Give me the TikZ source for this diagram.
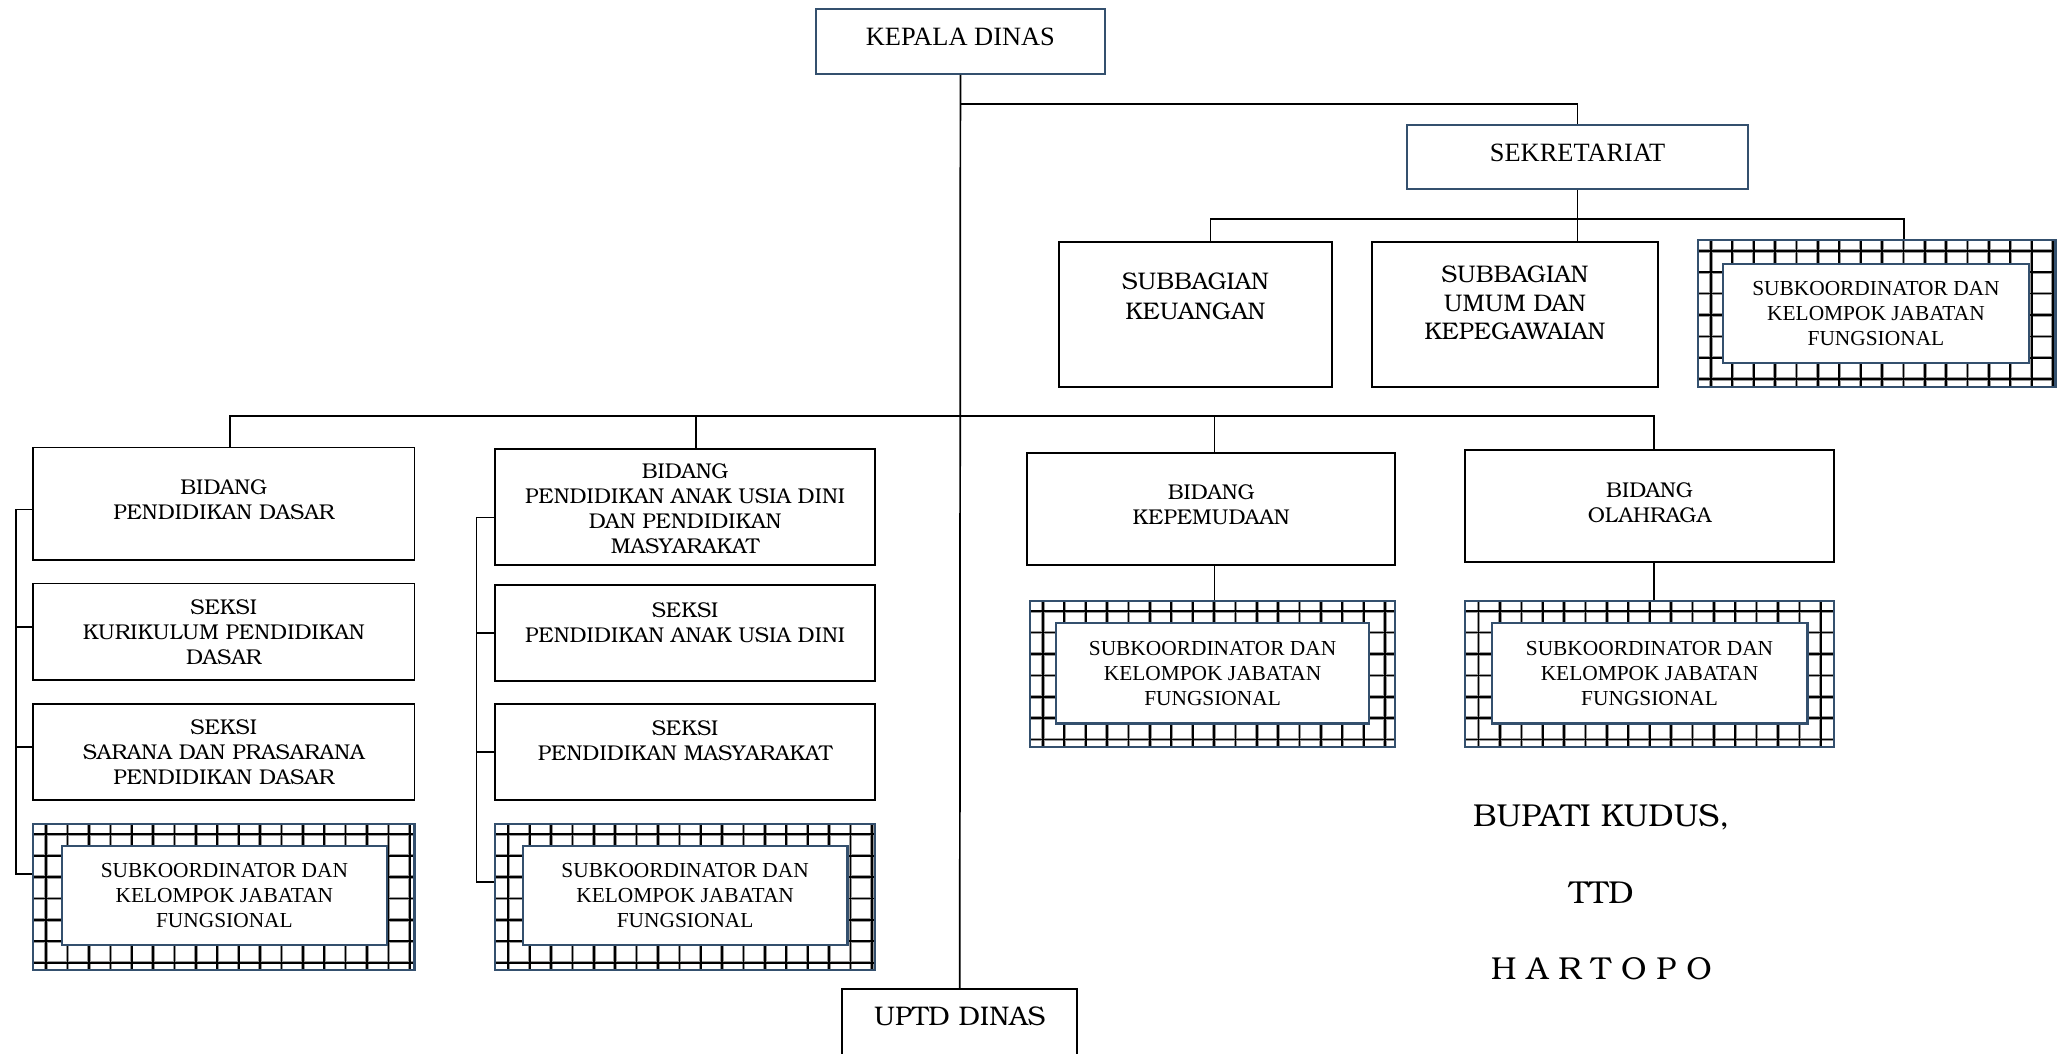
\documentclass[tikz,border=0pt]{standalone}
\usepackage{fontspec}
\setmainfont{Liberation Serif}
\newfontfamily\bk{TeX Gyre Bonum}
\usetikzlibrary{calc}
\definecolor{boxblue}{HTML}{34506E}
\begin{document}
\begin{tikzpicture}[x=1pt,y=-1pt,
  conn/.style={draw=black, line width=1.3pt},
  bluebox/.style={draw=boxblue, line width=1.6pt, fill=white, inner sep=0pt},
  blackbox/.style={draw=black, line width=1.4pt, fill=white, inner sep=0pt},
  gridshade/.style={draw=black!40, line width=2.6pt},
  gridline/.style={draw=black, line width=1.3pt},
  gridbox/.style={draw=boxblue, line width=1.6pt, fill=white, inner sep=0pt,
    path picture={
      \foreach \i in {0,...,18}{
        \draw[gridshade] ($(path picture bounding box.north west)+({10+\i*16.2},-5)$) -- ++(0,130);
      }
      \foreach \j in {0,...,7}{
        \draw[gridshade] ($(path picture bounding box.north west)+(-5,{8+\j*16.2})$) -- ++(300,0);
      }
      \foreach \i in {0,...,18}{
        \draw[gridline] ($(path picture bounding box.north west)+({10+\i*16.2},-5)$) -- ++(0,130);
      }
      \foreach \j in {0,...,7}{
        \draw[gridline] ($(path picture bounding box.north west)+(-5,{8+\j*16.2})$) -- ++(300,0);
      }
    }},
  innerbox/.style={draw=boxblue, line width=1.9pt, fill=white, inner sep=0pt,
    font=\fontsize{16.2}{19}\selectfont, align=center},
  tmstxt/.style={inner sep=0pt, font=\fontsize{20}{24}\selectfont, align=center},
  bktxt/.style={inner sep=0pt, font=\bk\fontsize{16.2}{19}\selectfont, align=center},
  sbtxt/.style={inner sep=0pt, font=\bk\fontsize{18.2}{23}\selectfont, align=center},
  sigtxt/.style={inner sep=0pt, font=\bk\fontsize{24}{28}\selectfont, align=center},
]
\path[use as bounding box] (0,0) rectangle (1568,798);

% top
\node[bluebox, minimum width=219pt, minimum height=49pt] (kd) at (727.5,31.5) {};
\node[tmstxt] (kd-t) at (727.5,28) {KEPALA DINAS};
\node[bluebox, minimum width=258pt, minimum height=48pt] (sek) at (1195,119) {};
\node[tmstxt] (sek-t) at (1195,116) {SEKRETARIAT};

% sekretariat children
\node[blackbox, minimum width=207pt, minimum height=110pt] (sbk) at (905.5,238) {};
\node[sbtxt] (sbk-t) at (905.5,224.5) {SUBBAGIAN\\KEUANGAN};
\node[blackbox, minimum width=217pt, minimum height=110pt] (sbu) at (1147.5,238) {};
\node[sbtxt, font=\bk\fontsize{18.2}{21.5}\selectfont] (sbu-t) at (1147.5,229.5) {SUBBAGIAN\\UMUM DAN\\KEPEGAWAIAN};
\node[gridbox, minimum width=271pt, minimum height=111pt] (ssub) at (1421.5,237.5) {};
\node[innerbox, minimum width=232pt, minimum height=75pt] (ssub-i) at (1421,237.5) {SUBKOORDINATOR DAN\\KELOMPOK JABATAN\\FUNGSIONAL};

% left column
\node[blackbox, minimum width=289pt, minimum height=85pt] (bpd) at (169.5,381.5) {};
\node[bktxt] (bpd-t) at (169.5,378.5) {BIDANG\\PENDIDIKAN DASAR};
\node[blackbox, minimum width=289pt, minimum height=73pt] (skur) at (169.5,478.5) {};
\node[bktxt] (skur-t) at (169.5,479) {SEKSI\\KURIKULUM PENDIDIKAN\\DASAR};
\node[blackbox, minimum width=289pt, minimum height=73pt] (ssar) at (169.5,569.5) {};
\node[bktxt] (ssar-t) at (169.5,569.5) {SEKSI\\SARANA DAN PRASARANA\\PENDIDIKAN DASAR};
\node[gridbox, minimum width=289pt, minimum height=111pt] (pdsub) at (169.5,679.5) {};
\node[innerbox, minimum width=246pt, minimum height=75pt] (pdsub-i) at (170,678.5) {SUBKOORDINATOR DAN\\KELOMPOK JABATAN\\FUNGSIONAL};

% middle column
\node[blackbox, minimum width=288pt, minimum height=88pt] (bpa) at (519,384) {};
\node[bktxt] (bpa-t) at (519,385.5) {BIDANG\\PENDIDIKAN ANAK USIA DINI\\DAN PENDIDIKAN\\MASYARAKAT};
\node[blackbox, minimum width=288pt, minimum height=73pt] (spa) at (519,479.5) {};
\node[bktxt] (spa-t) at (519,471.5) {SEKSI\\PENDIDIKAN ANAK USIA DINI};
\node[blackbox, minimum width=288pt, minimum height=73pt] (spm) at (519,569.5) {};
\node[bktxt] (spm-t) at (519,561) {SEKSI\\PENDIDIKAN MASYARAKAT};
\node[gridbox, minimum width=288pt, minimum height=111pt] (pasub) at (519,679.5) {};
\node[innerbox, minimum width=246pt, minimum height=75pt] (pasub-i) at (519,678.5) {SUBKOORDINATOR DAN\\KELOMPOK JABATAN\\FUNGSIONAL};

% right bidang
\node[blackbox, minimum width=279pt, minimum height=85pt] (kep) at (917.5,385.5) {};
\node[bktxt] (kep-t) at (917.5,382.5) {BIDANG\\KEPEMUDAAN};
\node[gridbox, minimum width=277pt, minimum height=111pt] (kpsub) at (918.5,510.5) {};
\node[innerbox, minimum width=237pt, minimum height=76pt] (kpsub-i) at (918.5,510) {SUBKOORDINATOR DAN\\KELOMPOK JABATAN\\FUNGSIONAL};
\node[blackbox, minimum width=279pt, minimum height=85pt] (olr) at (1249.5,383.5) {};
\node[bktxt] (olr-t) at (1249.5,380.5) {BIDANG\\OLAHRAGA};
\node[gridbox, minimum width=279pt, minimum height=111pt] (olsub) at (1249.5,510.5) {};
\node[innerbox, minimum width=239pt, minimum height=76pt] (olsub-i) at (1249.5,510) {SUBKOORDINATOR DAN\\KELOMPOK JABATAN\\FUNGSIONAL};

% uptd
\node[blackbox, minimum width=178pt, minimum height=62pt] (uptd) at (727,780) {};
\node[sbtxt, font=\bk\fontsize{20.4}{24}\selectfont] (uptd-t) at (727,770) {UPTD DINAS};

% signature
\node[sigtxt] (sig1) at (1213,619) {BUPATI KUDUS,};
\node[sigtxt] (sig2) at (1213,676) {TTD};
\node[sigtxt] (sig3) at (1213,734) {H A R T O P O};

% connectors
\coordinate (busK) at (0,79);
\coordinate (busS) at (0,166);
\coordinate (busM) at (0,315);
\draw[conn] (kd.south) -- (uptd.north);
\draw[conn] (kd.south |- busK) -| (sek.north);
\draw[conn] (sek.south) -- (sek.south |- sbu.north);
\coordinate (kdrop) at ([xshift=11.5pt]sbk.north);
\coordinate (sdrop) at ([xshift=20.5pt]ssub.north);
\draw[conn] (kdrop) -- (kdrop |- busS) -- (sdrop |- busS) -- (sdrop);

\coordinate (d1) at ([xshift=4.5pt]bpd.north);
\coordinate (d2) at ([xshift=8pt]bpa.north);
\coordinate (d3) at ([xshift=2.5pt]kep.north);
\coordinate (d4) at ([xshift=3.5pt]olr.north);
\draw[conn] (d1) -- (d1 |- busM) -- (d4 |- busM) -- (d4);
\draw[conn] (d2) -- (d2 |- busM);
\draw[conn] (d3) -- (d3 |- busM);
\draw[conn] (d3 |- kep.south) -- (d3 |- kpsub.north);
\draw[conn] (d4 |- olr.south) -- (d4 |- olsub.north);

% left bracket
\coordinate (lb) at (12,0);
\draw[conn] ([yshift=-4.5pt]bpd.west) -- ([yshift=-4.5pt]bpd.west -| lb) -- ([yshift=17.5pt]pdsub.west -| lb) -- ([yshift=17.5pt]pdsub.west);
\draw[conn] ([yshift=3.5pt]skur.west -| lb) -- ([yshift=3.5pt]skur.west);
\draw[conn] ([yshift=3.5pt]ssar.west -| lb) -- ([yshift=3.5pt]ssar.west);

% middle bracket
\coordinate (mb) at (361,0);
\draw[conn] ([yshift=-8pt]bpa.west) -- ([yshift=-8pt]bpa.west -| mb) -- ([yshift=11.5pt]pasub.west -| mb) -- ([yshift=11.5pt]pasub.west);
\draw[conn] (spa.west -| mb) -- (spa.west);
\draw[conn] (spm.west -| mb) -- (spm.west);
\end{tikzpicture}
\end{document}
